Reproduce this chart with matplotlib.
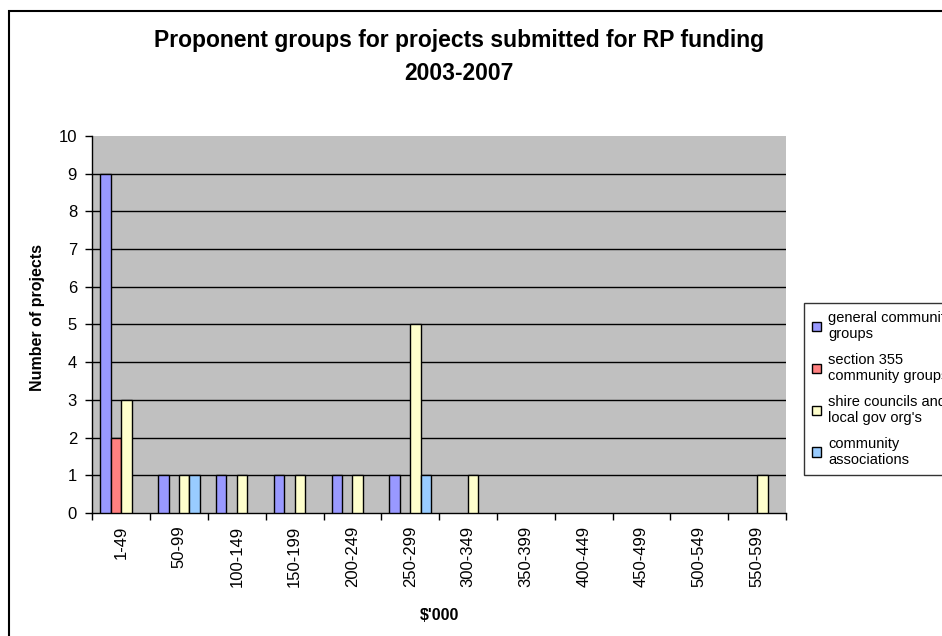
import matplotlib
matplotlib.use("Agg")
import matplotlib.pyplot as plt
import numpy as np
from matplotlib.patches import Rectangle

plt.rcParams['font.family'] = ['Liberation Sans', 'DejaVu Sans']

# Data
ranges = ["1-49", "50-99", "100-149", "150-199", "200-249", "250-299",
          "300-349", "350-399", "400-449", "450-499", "500-549", "550-599"]
general_groups = [9, 1, 1, 1, 1, 1, 0, 0, 0, 0, 0, 0]
section_355 = [2, 0, 0, 0, 0, 0, 0, 0, 0, 0, 0, 0]
shire_councils = [3, 1, 1, 1, 1, 5, 1, 0, 0, 0, 0, 1]
community_assoc = [0, 1, 0, 0, 0, 1, 0, 0, 0, 0, 0, 0]

series = [general_groups, section_355, shire_councils, community_assoc]
labels = ["general community\ngroups", "section 355\ncommunity groups",
          "shire councils and\nlocal gov org's", "community\nassociations"]
colors = ["#9999FF", "#FF8080", "#FFFFCC", "#99CCFF"]

fig = plt.figure(figsize=(9.42, 6.36), dpi=100)
ax = fig.add_axes([92.3/942, 1-513/636, (786-92.3)/942, (513-136)/636])
ax.set_facecolor("#C0C0C0")

x = np.arange(len(ranges))
w = 0.18
handles = []
for k, vals in enumerate(series):
    vals = np.array(vals)
    off = (k - 1.5) * w
    m = vals > 0  # zero counts are not drawn
    ax.bar(x[m] + off, vals[m], width=w, color=colors[k], edgecolor="black", linewidth=1, zorder=3)
    handles.append(Rectangle((0, 0), 1, 1, facecolor=colors[k], edgecolor="black", linewidth=1))

ax.set_xlim(-0.5, len(ranges) - 0.5)
ax.set_ylim(0, 10)
ax.set_yticks(range(0, 11))
for yv in range(1, 10):
    ax.axhline(yv, color="black", linewidth=1, zorder=1)

ax.set_xticks(x)
ax.set_xticklabels(ranges, rotation=90, fontsize=12)
ax.set_xticks(np.arange(-0.5, len(ranges)), minor=True)
ax.tick_params(axis="x", which="major", length=0, pad=9)
ax.tick_params(axis="x", which="minor", length=5, width=1)
ax.tick_params(axis="y", labelsize=12, length=5, width=1, pad=6)

for s in ["top", "right"]:
    ax.spines[s].set_visible(False)
ax.spines["left"].set_linewidth(1)
ax.spines["bottom"].set_linewidth(1)

fig.text(459/942, 1-57/636, "Proponent groups for projects submitted for RP funding\n2003-2007",
         ha="center", va="center", fontsize=16.5, fontweight="bold", linespacing=1.5)
fig.text(38/942, 1-317/636, "Number of projects", rotation=90, ha="center", va="center",
         fontsize=11.5, fontweight="bold")
fig.text(440/942, 1-615/636, r"\$'000", ha="center", va="center", fontsize=11.5, fontweight="bold")

leg = fig.legend(handles, labels, loc="upper left", bbox_to_anchor=(804/942, 1-303/636),
                 fontsize=10.5, frameon=True, fancybox=False, handlelength=0.6, handleheight=0.6,
                 handletextpad=0.5, labelspacing=0.8, borderpad=0.55, borderaxespad=0)
leg.get_frame().set_edgecolor("black")
leg.get_frame().set_linewidth(1)

# chart border (runs off the right and bottom edges like the original)
fig.add_artist(Rectangle((8.5/942, -0.1), 1.2, 1.1 - 10.5/636, transform=fig.transFigure,
                         fill=False, edgecolor="black", linewidth=1.5))

fig.savefig("out.png", dpi=100)
